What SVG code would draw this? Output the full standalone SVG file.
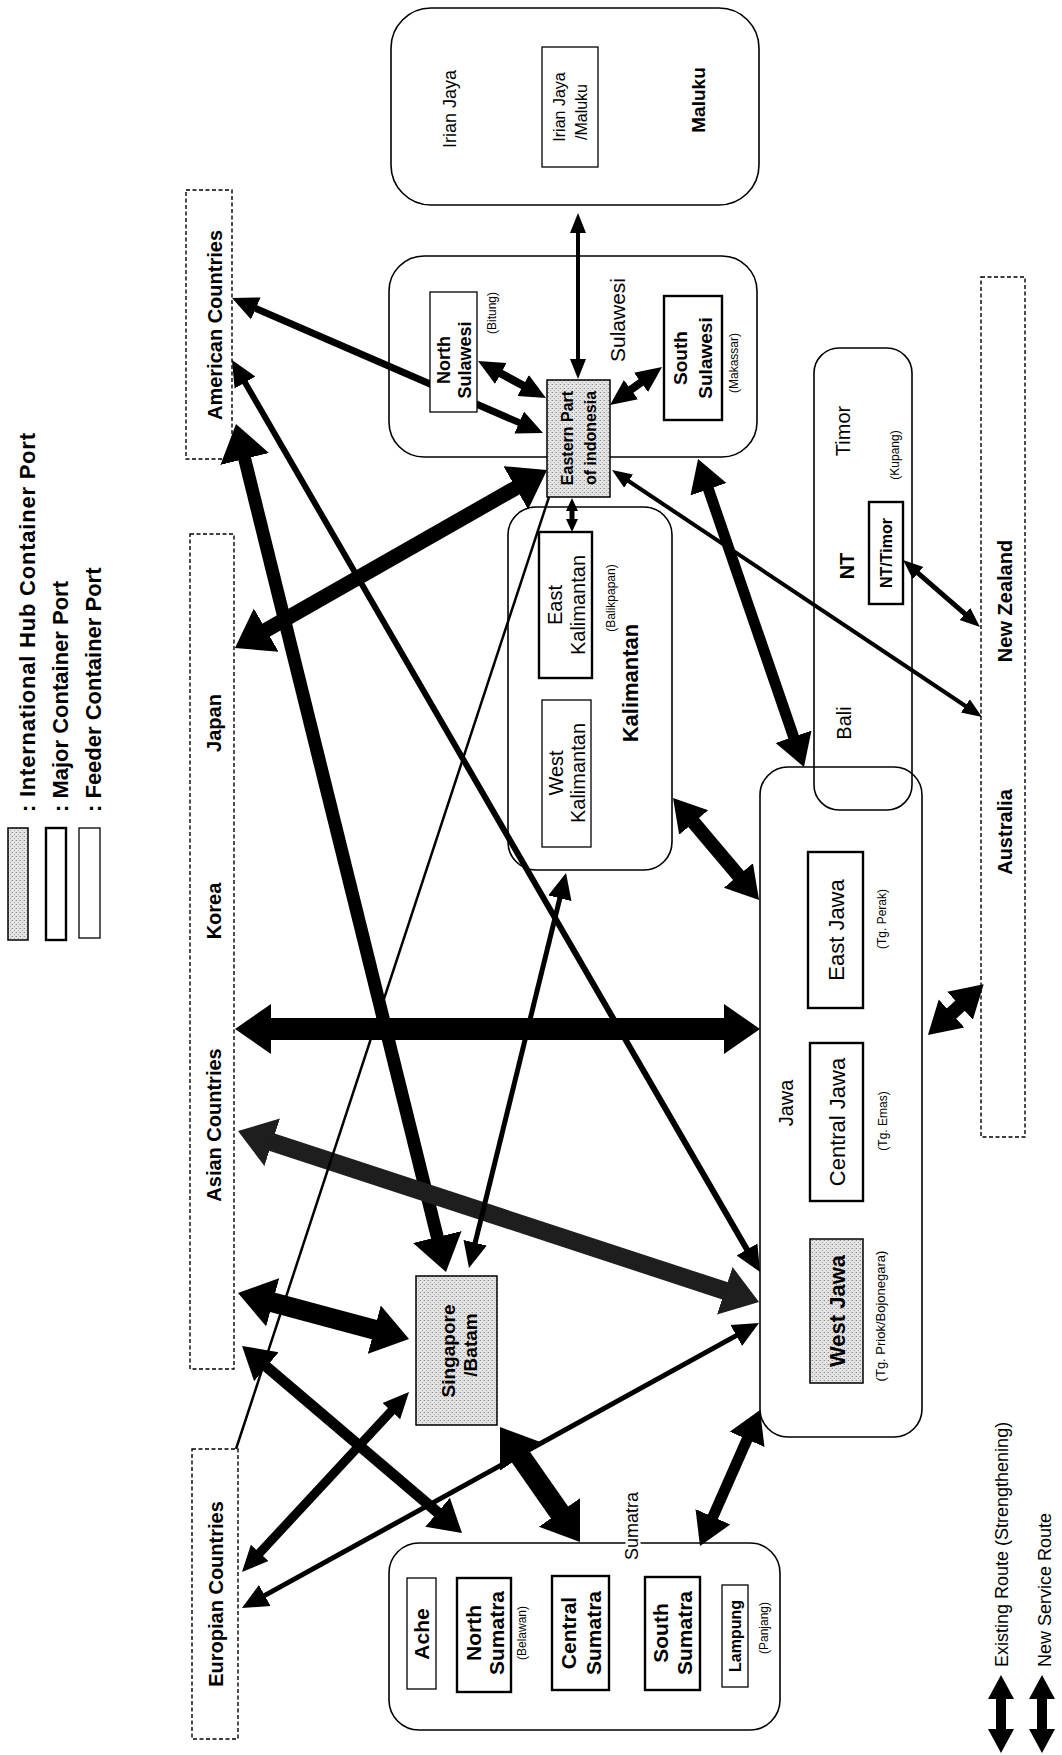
<svg xmlns="http://www.w3.org/2000/svg" width="1062" height="1755" viewBox="0 0 1062 1755">
  <defs>
    <!-- stipple used for international hub ports -->
    <pattern id="dots" width="4" height="4" patternUnits="userSpaceOnUse">
      <rect width="4" height="4" fill="#e4e4e4"/>
      <rect x="0" y="0" width="1" height="1" fill="#8a8a8a"/>
      <rect x="2" y="2" width="1" height="1" fill="#a8a8a8"/>
      <rect x="3" y="0" width="1" height="1" fill="#c4c4c4"/>
    </pattern>
    <!-- arrowheads, sized in user units -->
    <marker id="hXL" markerUnits="userSpaceOnUse" viewBox="0 -26 37 52" markerWidth="37" markerHeight="52" refX="2" refY="0" orient="auto-start-reverse">
      <path d="M0,-25 L36,0 L0,25 z" fill="#000"/>
    </marker>
    <marker id="hXLg" markerUnits="userSpaceOnUse" viewBox="0 -26 37 52" markerWidth="37" markerHeight="52" refX="2" refY="0" orient="auto-start-reverse">
      <path d="M0,-25 L36,0 L0,25 z" fill="#1e1e1e"/>
    </marker>
    <marker id="hL" markerUnits="userSpaceOnUse" viewBox="0 -20 33 40" markerWidth="33" markerHeight="40" refX="2" refY="0" orient="auto-start-reverse">
      <path d="M0,-19 L32,0 L0,19 z" fill="#000"/>
    </marker>
    <marker id="hM" markerUnits="userSpaceOnUse" viewBox="0 -13 27 26" markerWidth="27" markerHeight="26" refX="2" refY="0" orient="auto-start-reverse">
      <path d="M0,-12 L26,0 L0,12 z" fill="#000"/>
    </marker>
    <marker id="hS" markerUnits="userSpaceOnUse" viewBox="0 -9 21 18" markerWidth="21" markerHeight="18" refX="2" refY="0" orient="auto-start-reverse">
      <path d="M0,-8 L20,0 L0,8 z" fill="#000"/>
    </marker>
    <marker id="hXS" markerUnits="userSpaceOnUse" viewBox="0 -7 14 14" markerWidth="14" markerHeight="14" refX="1" refY="0" orient="auto-start-reverse">
      <path d="M0,-6 L13,0 L0,6 z" fill="#000"/>
    </marker>
    <marker id="hLeg" markerUnits="userSpaceOnUse" viewBox="0 -14 25 28" markerWidth="25" markerHeight="28" refX="1" refY="0" orient="auto-start-reverse">
      <path d="M0,-13 L24,0 L0,13 z" fill="#000"/>
    </marker>
  </defs>
  <style>
    .rb { fill: none; stroke: #000; stroke-width: 1.6; }
    .db { fill: none; stroke: #000; stroke-width: 1.4; stroke-dasharray: 4 2.5; }
    .pf { fill: #fff; stroke: #000; stroke-width: 1.3; }
    .pm { fill: #fff; stroke: #000; stroke-width: 2.4; }
    .ph { fill: url(#dots); stroke: #000; stroke-width: 1.5; }
    .t { font-family: "Liberation Sans", Arial, sans-serif; fill: #000; text-anchor: middle; dominant-baseline: central; }
    .ls { font-family: "Liberation Sans", Arial, sans-serif; fill: #000; text-anchor: start; }
    .b { font-weight: bold; }
    .f12 { font-size: 12px; }
    .f13 { font-size: 13px; }
    .f16 { font-size: 16px; }
    .f18 { font-size: 18px; }
    .f19 { font-size: 19px; }
    .f20 { font-size: 20px; }
    .f21 { font-size: 21px; }
    .f22 { font-size: 22px; }
    .c { stroke: #000; fill: none; stroke-linecap: butt; }
    .halo { stroke: #fff; stroke-width: 5; paint-order: stroke; }
  </style>
  <rect width="1062" height="1755" fill="#fff"/>

  <!-- port category legend -->
  <g id="legend-ports">
    <rect class="ph" x="8" y="828" width="20" height="112"/>
    <rect class="pm" x="46" y="828" width="20" height="112"/>
    <rect class="pf" x="79" y="828" width="21" height="110"/>
    <text class="ls b" font-size="22" transform="translate(35,812) rotate(-90)" textLength="379">: International Hub Container Port</text>
    <text class="ls b" font-size="22" transform="translate(68,812) rotate(-90)">: Major Container Port</text>
    <text class="ls b" font-size="22" transform="translate(101,812) rotate(-90)">: Feeder Container Port</text>
  </g>

  <!-- island regions -->
  <g id="irian-jaya-maluku">
    <rect class="rb" x="391" y="8" width="368" height="197" rx="40"/>
    <text class="t f18" transform="translate(450,109) rotate(-90)">Irian Jaya</text>
    <text class="t f19 b" transform="translate(698,100) rotate(-90)">Maluku</text>
  </g>
  <g id="sulawesi">
    <rect class="rb" x="389" y="256" width="368" height="201" rx="35"/>
    <text class="t f21" transform="translate(617,320) rotate(-90)">Sulawesi</text>
  </g>
  <g id="kalimantan">
    <rect class="rb" x="508" y="507" width="164" height="363" rx="28"/>
    <text class="t f22 b" transform="translate(630,683) rotate(-90)">Kalimantan</text>
  </g>
  <g id="nusa-tenggara">
    <rect class="rb" x="814" y="348" width="98" height="462" rx="25"/>
    <text class="t f20" transform="translate(843,431) rotate(-90)">Timor</text>
    <text class="t f12" transform="translate(895,455) rotate(-90)">(Kupang)</text>
    <text class="t f20 b" transform="translate(847,566) rotate(-90)">NT</text>
    <text class="t f20" transform="translate(844,723) rotate(-90)">Bali</text>
  </g>
  <g id="jawa">
    <rect class="rb" x="760" y="767" width="162" height="670" rx="28"/>
    <text class="t f20" transform="translate(786,1103) rotate(-90)">Jawa</text>
  </g>
  <g id="sumatra">
    <rect class="rb" x="389" y="1543" width="391" height="187" rx="30"/>
    <text class="t f18 halo" transform="translate(632,1526) rotate(-90)">Sumatra</text>
  </g>

  <!-- foreign destinations -->
  <g id="american-countries">
    <rect class="db" x="186" y="190" width="46" height="269"/>
    <text class="t f20 b" transform="translate(215,325) rotate(-90)">American Countries</text>
  </g>
  <g id="asian-countries">
    <rect class="db" x="190" y="534" width="44" height="835"/>
    <text class="t f20 b" transform="translate(214,723) rotate(-90)">Japan</text>
    <text class="t f20 b" transform="translate(214,911) rotate(-90)">Korea</text>
    <text class="t f20 b" transform="translate(214,1125) rotate(-90)">Asian Countries</text>
  </g>
  <g id="europian-countries">
    <rect class="db" x="192" y="1449" width="46" height="290"/>
    <text class="t f20 b" transform="translate(216,1594) rotate(-90)">Europian Countries</text>
  </g>
  <g id="australia-new-zealand">
    <rect class="db" x="981" y="277" width="44" height="860"/>
    <text class="t f20 b" transform="translate(1005,601) rotate(-90)">New Zealand</text>
    <text class="t f20 b" transform="translate(1005,832) rotate(-90)">Australia</text>
  </g>

  <!-- routes -->
  <g id="connectors" class="c">
    <line x1="578" y1="231" x2="578" y2="361" stroke-width="4" marker-start="url(#hS)" marker-end="url(#hS)"/>
    <line x1="521" y1="423.4" x2="254" y2="307.6" stroke-width="7" marker-start="url(#hM)" marker-end="url(#hM)"/>
    <line x1="499.1" y1="372.5" x2="524.9" y2="386.5" stroke-width="8" marker-start="url(#hM)" marker-end="url(#hM)"/>
    <line x1="642.6" y1="381.2" x2="629.4" y2="390.8" stroke-width="8" marker-start="url(#hM)" marker-end="url(#hM)"/>
    <line x1="572" y1="510" x2="572" y2="520" stroke-width="5" marker-start="url(#hXS)" marker-end="url(#hXS)"/>
    <line x1="517.5" y1="486.9" x2="264.5" y2="631.1" stroke-width="15" marker-start="url(#hXL)" marker-end="url(#hXL)"/>
    <line x1="244.2" y1="457" x2="437.8" y2="1239" stroke-width="13" marker-start="url(#hXL)" marker-end="url(#hXL)"/>
    <line x1="244" y1="380.8" x2="748" y2="1251.2" stroke-width="6" marker-start="url(#hM)" marker-end="url(#hM)"/>
    <line x1="269" y1="1029" x2="726" y2="1029" stroke-width="22" marker-start="url(#hXL)" marker-end="url(#hXL)"/>
    <line x1="270.3" y1="1141.6" x2="726.7" y2="1291.4" stroke-width="18" stroke="#1e1e1e" marker-start="url(#hXLg)" marker-end="url(#hXLg)"/>
    <line x1="270.8" y1="1301.8" x2="376.2" y2="1330.2" stroke-width="20" marker-start="url(#hXL)" marker-end="url(#hXL)"/>
    <line x1="264.9" y1="1365.4" x2="439.1" y2="1513.6" stroke-width="11" marker-start="url(#hL)" marker-end="url(#hL)"/>
    <line x1="258.3" y1="1554.4" x2="392.7" y2="1409.6" stroke-width="9" marker-start="url(#hM)" marker-end="url(#hM)"/>
    <line x1="263" y1="1596.4" x2="738" y2="1334.6" stroke-width="5" marker-start="url(#hM)" marker-end="url(#hM)"/>
    <line x1="519.4" y1="1454.9" x2="560.6" y2="1514.1" stroke-width="21" marker-start="url(#hXL)" marker-end="url(#hXL)"/>
    <line x1="712.1" y1="1518.6" x2="747.9" y2="1437.5" stroke-width="11" marker-start="url(#hL)" marker-end="url(#hL)"/>
    <line x1="549" y1="497" x2="236" y2="1449" stroke-width="2.5"/>
    <line x1="560.3" y1="896.3" x2="474.7" y2="1244.7" stroke-width="5" marker-start="url(#hM)" marker-end="url(#hM)"/>
    <line x1="707.8" y1="487.4" x2="794.2" y2="738.6" stroke-width="11" marker-start="url(#hL)" marker-end="url(#hL)"/>
    <line x1="692.4" y1="821" x2="739.7" y2="877" stroke-width="14" marker-start="url(#hL)" marker-end="url(#hL)"/>
    <line x1="627" y1="480" x2="967" y2="707" stroke-width="4" marker-start="url(#hS)" marker-end="url(#hS)"/>
    <line x1="916.6" y1="571.8" x2="966.4" y2="615.2" stroke-width="5" marker-start="url(#hS)" marker-end="url(#hS)"/>
    <line x1="961.5" y1="1004.4" x2="950.1" y2="1014.8" stroke-width="14" marker-start="url(#hL)" marker-end="url(#hL)"/>
  </g>

  <!-- ports -->
  <g id="irian-jaya-maluku-port">
    <rect class="pf" x="542" y="47" width="56" height="120"/>
    <text class="t f16" transform="translate(559,107) rotate(-90)">Irian Jaya</text>
    <text class="t f16" transform="translate(581,112) rotate(-90)">/Maluku</text>
  </g>
  <g id="north-sulawesi">
    <rect class="pf" x="430" y="292" width="47" height="120"/>
    <text class="t f18 b" transform="translate(444,360) rotate(-90)">North</text>
    <text class="t f18 b" transform="translate(465,360) rotate(-90)">Sulawesi</text>
    <text class="t f12" transform="translate(492,313) rotate(-90)">(Bitung)</text>
  </g>
  <g id="eastern-part-of-indonesia">
    <rect class="ph" x="547" y="380" width="63" height="117"/>
    <text class="t f16 b" transform="translate(567,438) rotate(-90)">Eastern Part</text>
    <text class="t f16 b" transform="translate(590,438) rotate(-90)">of indonesia</text>
  </g>
  <g id="south-sulawesi">
    <rect class="pm" x="664" y="296" width="58" height="124"/>
    <text class="t f19 b" transform="translate(680,358) rotate(-90)">South</text>
    <text class="t f19 b" transform="translate(705,358) rotate(-90)">Sulawesi</text>
    <text class="t f12" transform="translate(734,363) rotate(-90)">(Makassar)</text>
  </g>
  <g id="east-kalimantan">
    <rect class="pm" x="539" y="532" width="53" height="146"/>
    <text class="t f20" transform="translate(555,605) rotate(-90)">East</text>
    <text class="t f20" transform="translate(578,605) rotate(-90)">Kalimantan</text>
    <text class="t f12" transform="translate(611,598) rotate(-90)">(Balikpapan)</text>
  </g>
  <g id="west-kalimantan">
    <rect class="pf" x="542" y="700" width="49" height="147"/>
    <text class="t f20" transform="translate(556,773) rotate(-90)">West</text>
    <text class="t f20" transform="translate(578,773) rotate(-90)">Kalimantan</text>
  </g>
  <g id="nt-timor">
    <rect class="pm" x="869" y="502" width="34" height="102"/>
    <text class="t f16 b" transform="translate(886,553) rotate(-90)">NT/Timor</text>
  </g>
  <g id="east-jawa">
    <rect class="pm" x="808" y="852" width="55" height="156"/>
    <text class="t f22" transform="translate(836,930) rotate(-90)">East Jawa</text>
    <text class="t f12" transform="translate(882,919) rotate(-90)">(Tg. Perak)</text>
  </g>
  <g id="central-jawa">
    <rect class="pm" x="810" y="1043" width="53" height="158"/>
    <text class="t f22" transform="translate(837,1122) rotate(-90)">Central Jawa</text>
    <text class="t f12" transform="translate(883,1121) rotate(-90)">(Tg. Emas)</text>
  </g>
  <g id="west-jawa">
    <rect class="ph" x="810" y="1239" width="53" height="144"/>
    <text class="t f22 b" transform="translate(837,1311) rotate(-90)">West Jawa</text>
    <text class="t f13" transform="translate(880,1316) rotate(-90)">(Tg. Priok/Bojonegara)</text>
  </g>
  <g id="singapore-batam">
    <rect class="ph" x="416" y="1276" width="81" height="149"/>
    <text class="t f19 b" transform="translate(448,1351) rotate(-90)">Singapore</text>
    <text class="t f19 b" transform="translate(470,1345) rotate(-90)">/Batam</text>
  </g>
  <g id="ache">
    <rect class="pf" x="407" y="1578" width="29" height="111"/>
    <text class="t f21 b" transform="translate(421,1634) rotate(-90)">Ache</text>
  </g>
  <g id="north-sumatra">
    <rect class="pm" x="457" y="1578" width="54" height="114"/>
    <text class="t f21 b" transform="translate(473,1633) rotate(-90)">North</text>
    <text class="t f21 b" transform="translate(496,1633) rotate(-90)">Sumatra</text>
    <text class="t f12" transform="translate(522,1633) rotate(-90)">(Belawan)</text>
  </g>
  <g id="central-sumatra">
    <rect class="pm" x="552" y="1576" width="57" height="114"/>
    <text class="t f21 b" transform="translate(568,1633) rotate(-90)">Central</text>
    <text class="t f21 b" transform="translate(593,1633) rotate(-90)">Sumatra</text>
  </g>
  <g id="south-sumatra">
    <rect class="pm" x="645" y="1577" width="55" height="113"/>
    <text class="t f21 b" transform="translate(660,1633) rotate(-90)">South</text>
    <text class="t f21 b" transform="translate(684,1633) rotate(-90)">Sumatra</text>
  </g>
  <g id="lampung">
    <rect class="pf" x="722" y="1585" width="26" height="102"/>
    <text class="t f16 b" transform="translate(735,1636) rotate(-90)">Lampung</text>
    <text class="t f12" transform="translate(764,1628) rotate(-90)">(Panjang)</text>
  </g>

  <!-- route legend -->
  <g id="legend-routes">
    <line class="c" x1="1001" y1="1698" x2="1001" y2="1730" stroke-width="10" marker-start="url(#hLeg)" marker-end="url(#hLeg)"/>
    <line class="c" x1="1042" y1="1698" x2="1042" y2="1730" stroke-width="10" marker-start="url(#hLeg)" marker-end="url(#hLeg)"/>
    <text class="ls" font-size="18" transform="translate(1008,1667) rotate(-90)">Existing Route (Strengthening)</text>
    <text class="ls" font-size="18" transform="translate(1051,1667) rotate(-90)">New Service Route</text>
  </g>
</svg>
